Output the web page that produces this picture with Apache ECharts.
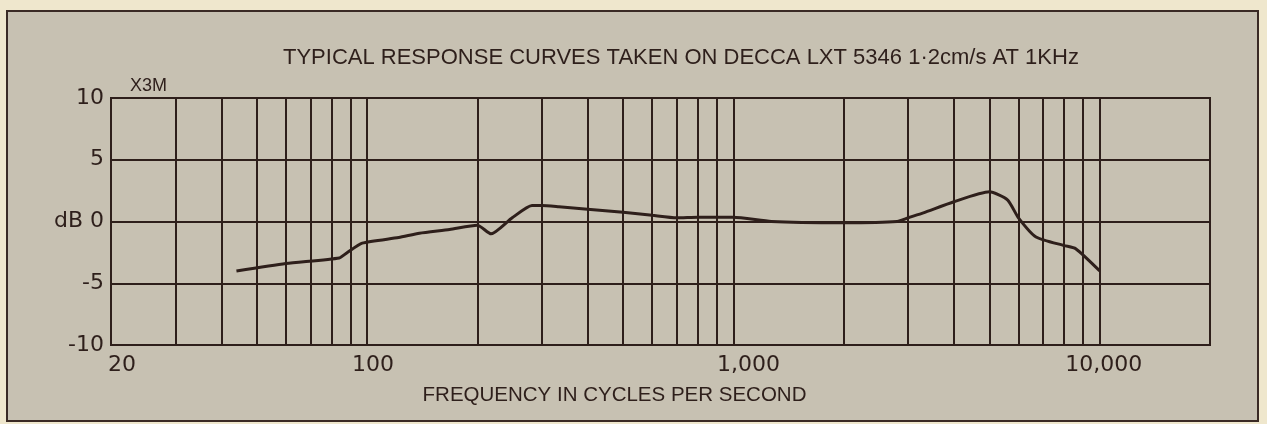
<!DOCTYPE html>
<html>
<head>
<meta charset="utf-8">
<title>X3M response curve</title>
<script src="https://cdn.jsdelivr.net/npm/echarts@6/dist/echarts.min.js"></script>
<style>
  html, body { margin: 0; padding: 0; background: #efe7cd; }
  #frame {
    position: absolute; left: 6px; top: 10px; width: 1253px; height: 412px;
    box-sizing: border-box; background: #c7c1b2; border: 2px solid #3a2a25;
  }
  #chart { position: absolute; left: 0; top: 0; width: 1267px; height: 424px; }
</style>
</head>
<body>
<div id="frame"></div>
<div id="chart"></div>
<script>
// Frequency response of the X3M cartridge, Decca LXT 5346 test record
const freqHz = [44, 60, 84, 88, 97, 122, 139, 168, 200, 218, 249, 282, 300, 334, 400,
                500, 600, 700, 800, 1000, 1270, 2000, 2800, 3000, 3300, 4000, 5000,
                5600, 6000, 6700, 8000, 8600, 10000];
const levelDb = [-4.0, -3.4, -2.95, -2.55, -1.75, -1.3, -0.95, -0.65, -0.3, -1.0, 0.3, 1.3, 1.3, 1.2, 1.0,
                 0.75, 0.5, 0.3, 0.35, 0.35, 0.0, -0.1, 0.0, 0.3, 0.7, 1.6, 2.4,
                 1.75, 0.3, -1.25, -1.95, -2.2, -4.0];

// Vertical rulings of the log paper
const gridFreqs = [30, 40, 50, 60, 70, 80, 90, 100,
                   200, 300, 400, 500, 600, 700, 800, 900, 1000,
                   2000, 3000, 4000, 5000, 6000, 7000, 8000, 9000, 10000];
const dbTicks = [-10, -5, 0, 5, 10];

const titleText = 'TYPICAL RESPONSE CURVES TAKEN ON DECCA LXT 5346 1·2cm/s AT 1KHz';
const seriesName = 'X3M';
const xAxisTitle = 'FREQUENCY IN CYCLES PER SECOND';

const ink = '#2e1f1b';
const numFont = 'DejaVu Sans';
const textFont = 'Liberation Sans';

// nudges for the printed frequency numbers (left padding, px)
const xLabelPad = { 20: 22, 100: 12, 1000: 30, 10000: 8 };

const chart = echarts.init(document.getElementById('chart'), null, { renderer: 'canvas' });

const points = freqHz.map((f, i) => [f, levelDb[i]]);

chart.setOption({
  backgroundColor: 'transparent',
  animation: false,
  grid: {
    left: 111, top: 98, right: 57, bottom: 79,
    show: true, borderColor: ink, borderWidth: 2, backgroundColor: 'transparent'
  },
  graphic: [
    {
      type: 'text', left: 283, top: 47,
      style: { text: titleText, fill: ink, font: '22px "' + textFont + '"' }
    },
    {
      type: 'text', left: 130, top: 77,
      style: { text: seriesName, fill: ink, font: '18px "' + textFont + '"' }
    }
  ],
  xAxis: {
    type: 'log', logBase: 10, min: 20, max: 20000,
    name: xAxisTitle, nameLocation: 'middle', nameGap: 40,
    nameTextStyle: { color: ink, fontFamily: textFont, fontSize: 20.5, padding: [0, 92, 0, 0] },
    axisLine: { show: true, lineStyle: { color: ink, width: 2 } },
    axisTick: { show: false },
    splitLine: { show: false },
    axisLabel: {
      color: ink, fontFamily: numFont, fontSize: 22, margin: 9,
      showMaxLabel: false,
      formatter: v => {
        const n = Math.round(v);
        return '{p' + n + '|' + n.toLocaleString('en-US') + '}';
      },
      rich: Object.fromEntries(Object.entries(xLabelPad).map(([k, p]) => [
        'p' + k, { padding: [0, 0, 0, p], color: ink, fontFamily: numFont, fontSize: 22 }
      ]))
    }
  },
  yAxis: {
    type: 'value', min: dbTicks[0], max: dbTicks[dbTicks.length - 1], interval: 5,
    axisLine: { show: true, lineStyle: { color: ink, width: 2 } },
    axisTick: { show: false },
    splitLine: { show: true, lineStyle: { color: ink, width: 2 } },
    axisLabel: {
      color: ink, fontFamily: numFont, fontSize: 22, margin: 7,
      formatter: v => (v === 0 ? 'dB 0' : String(v))
    }
  },
  series: [{
    name: seriesName,
    type: 'line',
    data: points,
    showSymbol: false,
    smooth: 0.2,
    lineStyle: { color: ink, width: 3 },
    z: 5,
    markLine: {
      silent: true,
      symbol: 'none',
      label: { show: false },
      lineStyle: { color: ink, width: 2, type: 'solid' },
      data: gridFreqs.map(f => ({ xAxis: f }))
    }
  }]
});
</script>
</body>
</html>
